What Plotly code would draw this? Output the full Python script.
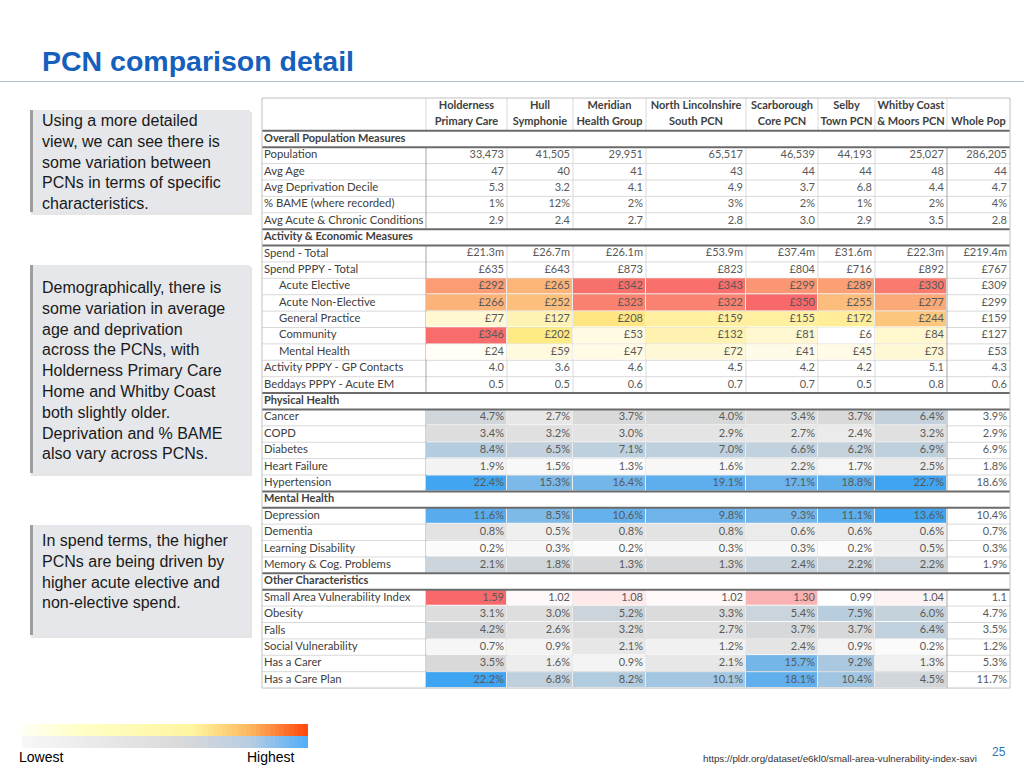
import numpy as np
import plotly.graph_objects as go

# ---------------- DATA ----------------
pcn_line1 = ["Holderness", "Hull", "Meridian", "North Lincolnshire", "Scarborough", "Selby", "Whitby Coast", ""]
pcn_line2 = ["Primary Care", "Symphonie", "Health Group", "South PCN", "Core PCN", "Town PCN", "& Moors PCN", "Whole Pop"]

section_titles = ["Overall Population Measures", "Activity & Economic Measures",
                  "Physical Health", "Mental Health", "Other Characteristics"]

overall_labels = ["Population", "Avg Age", "Avg Deprivation Decile",
                  "% BAME (where recorded)", "Avg Acute & Chronic Conditions"]
overall_values = [
    [33473, 41505, 29951, 65517, 46539, 44193, 25027],
    [47, 40, 41, 43, 44, 44, 48],
    [5.3, 3.2, 4.1, 4.9, 3.7, 6.8, 4.4],
    [1, 12, 2, 3, 2, 1, 2],
    [2.9, 2.4, 2.7, 2.8, 3.0, 2.9, 3.5],
]
overall_whole = [286205, 44, 4.7, 4, 2.8]
overall_formats = ["comma", "int", "dec1", "pct0", "dec1"]

activity_labels = ["Spend - Total", "Spend PPPY - Total", "Acute Elective", "Acute Non-Elective",
                   "General Practice", "Community", "Mental Health",
                   "Activity PPPY - GP Contacts", "Beddays PPPY - Acute EM"]
activity_indent = [False, False, True, True, True, True, True, False, False]
activity_values = [
    [21.3, 26.7, 26.1, 53.9, 37.4, 31.6, 22.3],
    [635, 643, 873, 823, 804, 716, 892],
    [292, 265, 342, 343, 299, 289, 330],
    [266, 252, 323, 322, 350, 255, 277],
    [77, 127, 208, 159, 155, 172, 244],
    [346, 202, 53, 132, 81, 6, 84],
    [24, 59, 47, 72, 41, 45, 73],
    [4.0, 3.6, 4.6, 4.5, 4.2, 4.2, 5.1],
    [0.5, 0.5, 0.6, 0.7, 0.7, 0.5, 0.8],
]
activity_whole = [219.4, 767, 309, 299, 159, 127, 53, 4.3, 0.6]
activity_formats = ["money_m", "money", "money", "money", "money", "money", "money", "dec1", "dec1"]

physical_labels = ["Cancer", "COPD", "Diabetes", "Heart Failure", "Hypertension"]
physical_values = [
    [4.7, 2.7, 3.7, 4.0, 3.4, 3.7, 6.4],
    [3.4, 3.2, 3.0, 2.9, 2.7, 2.4, 3.2],
    [8.4, 6.5, 7.1, 7.0, 6.6, 6.2, 6.9],
    [1.9, 1.5, 1.3, 1.6, 2.2, 1.7, 2.5],
    [22.4, 15.3, 16.4, 19.1, 17.1, 18.8, 22.7],
]
physical_whole = [3.9, 2.9, 6.9, 1.8, 18.6]

mental_labels = ["Depression", "Dementia", "Learning Disability", "Memory & Cog. Problems"]
mental_values = [
    [11.6, 8.5, 10.6, 9.8, 9.3, 11.1, 13.6],
    [0.8, 0.5, 0.8, 0.8, 0.6, 0.6, 0.6],
    [0.2, 0.3, 0.2, 0.3, 0.3, 0.2, 0.5],
    [2.1, 1.8, 1.3, 1.3, 2.4, 2.2, 2.2],
]
mental_whole = [10.4, 0.7, 0.3, 1.9]

other_labels = ["Small Area Vulnerability Index", "Obesity", "Falls",
                "Social Vulnerability", "Has a Carer", "Has a Care Plan"]
other_values = [
    [1.59, 1.02, 1.08, 1.02, 1.30, 0.99, 1.04],
    [3.1, 3.0, 5.2, 3.3, 5.4, 7.5, 6.0],
    [4.2, 2.6, 3.2, 2.7, 3.7, 3.7, 6.4],
    [0.7, 0.9, 2.1, 1.2, 2.4, 0.9, 0.2],
    [3.5, 1.6, 0.9, 2.1, 15.7, 9.2, 1.3],
    [22.2, 6.8, 8.2, 10.1, 18.1, 10.4, 4.5],
]
other_whole = [1.1, 4.7, 3.5, 1.2, 5.3, 11.7]
other_formats = ["dec2", "pct1", "pct1", "pct1", "pct1", "pct1"]
other_whole_formats = ["dec1", "pct1", "pct1", "pct1", "pct1", "pct1"]

box_texts = [
    "Using a more detailed<br>view, we can see there is<br>some variation between<br>PCNs in terms of specific<br>characteristics.",
    "Demographically, there is<br>some variation in average<br>age and deprivation<br>across the PCNs, with<br>Holderness Primary Care<br>Home and Whitby Coast<br>both slightly older.<br>Deprivation and % BAME<br>also vary across PCNs.",
    "In spend terms, the higher<br>PCNs are being driven by<br>higher acute elective and<br>non-elective spend.",
]

# ---------------- LAYOUT CONSTANTS ----------------
W, H = 1024, 768
col_edges = [262, 426, 507, 573, 646, 746, 818, 875, 947, 1010]
table_top = 98
row0_y = 139.0
row_h = 16.39
LABEL_FONT = "Lato, Carlito, Calibri, sans-serif"
ARIAL = "Liberation Sans, Arial, sans-serif"


def fmt(v, kind):
    if kind == "comma":
        return f"{v:,.0f}"
    if kind == "int":
        return f"{v:.0f}"
    if kind == "dec1":
        return f"{v:.1f}"
    if kind == "dec2":
        return f"{v:.2f}"
    if kind == "pct0":
        return f"{v:.0f}%"
    if kind == "pct1":
        return f"{v:.1f}%"
    if kind == "money_m":
        return f"£{v:.1f}m"
    if kind == "money":
        return f"£{v:,.0f}"
    return str(v)


# build table rows
rows = []
def add_section(title, labels, values, whole, fmts, wfmts=None, indents=None):
    rows.append(dict(kind="section", label=title))
    for i, lab in enumerate(labels):
        rows.append(dict(kind="data", label=lab,
                         indent=(indents[i] if indents else False),
                         values=values[i], whole=whole[i], fmt=fmts[i],
                         wfmt=(wfmts[i] if wfmts else fmts[i])))

add_section(section_titles[0], overall_labels, overall_values, overall_whole, overall_formats)
add_section(section_titles[1], activity_labels, activity_values, activity_whole, activity_formats,
            indents=activity_indent)
add_section(section_titles[2], physical_labels, physical_values, physical_whole, ["pct1"] * 5)
add_section(section_titles[3], mental_labels, mental_values, mental_whole, ["pct1"] * 4)
add_section(section_titles[4], other_labels, other_values, other_whole, other_formats, other_whole_formats)

n_rows = len(rows)
def yc(i):
    return row0_y + i * row_h
def ye(i):
    return row0_y - row_h / 2 + i * row_h
table_bottom = ye(n_rows)
header_bottom = ye(0)

fig = go.Figure()

# ---------------- HEATMAP BLOCKS ----------------
WHITE = "#FFFFFF"
YELLOW = "#FFEB84"
RED = "#F8696B"
GRAY = "#D9D9D9"
BLUE = "#3FA4F2"
LOWG = "#FBFBFB"


def row_index(label, section):
    sec_i = [k for k, r in enumerate(rows) if r["kind"] == "section" and r["label"] == section][0]
    for k in range(sec_i + 1, n_rows):
        if rows[k]["label"] == label:
            return k
    raise KeyError(label)


def add_block(first_idx, block_vals, colors):
    arr = np.array(block_vals, dtype=float)
    lo, hi = arr.min(), arr.max()
    if len(colors) == 3:
        med = float(np.median(arr))
        mf = (med - lo) / (hi - lo)
        cs = [[0, colors[0]], [mf, colors[1]], [1, colors[2]]]
    else:
        cs = [[0, colors[0]], [1, colors[1]]]
    nr = arr.shape[0]
    fig.add_trace(go.Heatmap(
        z=arr.tolist(), x=col_edges[1:9],
        y=[ye(first_idx + k) for k in range(nr + 1)],
        colorscale=cs, zmin=lo, zmax=hi, showscale=False,
        xgap=1, ygap=1, hoverinfo="skip"))

add_block(row_index("Acute Elective", section_titles[1]), activity_values[2:7], [WHITE, YELLOW, RED])
add_block(row_index("Cancer", section_titles[2]), physical_values, [LOWG, GRAY, BLUE])
add_block(row_index("Depression", section_titles[3]), mental_values, [LOWG, GRAY, BLUE])
add_block(row_index("Small Area Vulnerability Index", section_titles[4]), other_values[0:1], [WHITE, RED])
add_block(row_index("Obesity", section_titles[4]), other_values[1:], [LOWG, GRAY, BLUE])

# ---------------- TABLE TEXT ----------------
lab_x, lab_y, lab_t = [], [], []
sec_x, sec_y, sec_t = [], [], []
val_x, val_y, val_t = [], [], []
for i, r in enumerate(rows):
    if r["kind"] == "section":
        sec_x.append(col_edges[0] + 2)
        sec_y.append(yc(i))
        sec_t.append("<b>" + r["label"] + "</b>")
        continue
    lab_x.append(col_edges[0] + (17 if r["indent"] else 2))
    lab_y.append(yc(i))
    lab_t.append(r["label"])
    for c, v in enumerate(r["values"]):
        val_x.append(col_edges[c + 2] - 3)
        val_y.append(yc(i))
        val_t.append(fmt(v, r["fmt"]))
    val_x.append(col_edges[9] - 3)
    val_y.append(yc(i))
    val_t.append(fmt(r["whole"], r["wfmt"]))

fig.add_trace(go.Scatter(x=lab_x, y=lab_y, text=lab_t, mode="text", textposition="middle right",
                         textfont=dict(family=LABEL_FONT, size=11.3, color="#404040"), hoverinfo="skip"))
fig.add_trace(go.Scatter(x=sec_x, y=sec_y, text=sec_t, mode="text", textposition="middle right",
                         textfont=dict(family=LABEL_FONT, size=11, color="#404040"), hoverinfo="skip"))
fig.add_trace(go.Scatter(x=val_x, y=val_y, text=val_t, mode="text", textposition="middle left",
                         textfont=dict(family=LABEL_FONT, size=11, color="#595959"), hoverinfo="skip"))

hx = [(col_edges[c + 1] + col_edges[c + 2]) / 2 for c in range(8)]
fig.add_trace(go.Scatter(x=hx, y=[106] * 8, text=["<b>" + t + "</b>" for t in pcn_line1],
                         mode="text", textposition="middle center",
                         textfont=dict(family=LABEL_FONT, size=11, color="#404040"), hoverinfo="skip"))
fig.add_trace(go.Scatter(x=hx, y=[122] * 8, text=["<b>" + t + "</b>" for t in pcn_line2],
                         mode="text", textposition="middle center",
                         textfont=dict(family=LABEL_FONT, size=11, color="#404040"), hoverinfo="skip"))

# ---------------- TABLE LINES ----------------
shapes = []
def line(x0, y0, x1, y1, color, width, layer="below"):
    shapes.append(dict(type="line", x0=x0, y0=y0, x1=x1, y1=y1, xref="x", yref="y",
                       line=dict(color=color, width=width), layer=layer))

blocks = []
start = None
for i, r in enumerate(rows):
    if r["kind"] == "data" and start is None:
        start = i
    if r["kind"] == "section" and start is not None:
        blocks.append((start, i - 1)); start = None
if start is not None:
    blocks.append((start, n_rows - 1))

for (a, b) in blocks:
    for i in range(a + 1, b + 1):
        line(col_edges[0], ye(i), col_edges[-1], ye(i), "#D9D9D9", 1)
    for k, x in enumerate(col_edges[1:-1]):
        colr = "#A6A6A6" if k in (0, 7) else "#D9D9D9"
        line(x, ye(a), x, ye(b + 1), colr, 1)
for k, x in enumerate(col_edges[1:-1]):
    line(x, table_top, x, header_bottom, "#D9D9D9", 1)
for i, r in enumerate(rows):
    if r["kind"] == "section":
        line(col_edges[0], ye(i), col_edges[-1], ye(i), "#6B6B6B", 2, "above")
        line(col_edges[0], ye(i + 1), col_edges[-1], ye(i + 1), "#6B6B6B", 2, "above")
shapes.append(dict(type="rect", x0=col_edges[0], y0=table_top, x1=col_edges[-1], y1=table_bottom,
                   xref="x", yref="y", line=dict(color="#BFBFBF", width=1), layer="above"))

# ---------------- SLIDE DECORATION ----------------
shapes.append(dict(type="line", x0=0, y0=81.5, x1=W, y1=81.5, xref="x", yref="y",
                   line=dict(color="#A9C0D3", width=1), layer="below"))
boxes = [(30, 110, 250, 212), (30, 265, 250, 473), (30, 525, 250, 635)]
box_text_mid = [162, 370.5, 571]
annotations = []
for (bx0, by0, bx1, by1), txt, ty in zip(boxes, box_texts, box_text_mid):
    shapes.append(dict(type="rect", x0=bx0 + 1, y0=by0 + 2, x1=bx1 + 2, y1=by1 + 3, xref="x", yref="y",
                       fillcolor="rgba(0,0,0,0.10)", line=dict(width=0), layer="below"))
    shapes.append(dict(type="rect", x0=bx0, y0=by0, x1=bx1, y1=by1, xref="x", yref="y",
                       fillcolor="#E5E7EA", line=dict(width=0), layer="below"))
    shapes.append(dict(type="rect", x0=bx0, y0=by0, x1=bx0 + 3, y1=by1, xref="x", yref="y",
                       fillcolor="#9E9E9E", line=dict(width=0), layer="below"))
    annotations.append(dict(x=bx0 + 10, y=ty, xref="x", yref="y", text=txt, showarrow=False,
                            xanchor="left", yanchor="middle", align="left",
                            font=dict(family=ARIAL, size=16, color="#1A1A1A")))

annotations.append(dict(x=40, y=61, xref="x", yref="y", text="<b>PCN comparison detail</b>",
                        showarrow=False, xanchor="left", yanchor="middle",
                        font=dict(family=ARIAL, size=28.5, color="#1560BD")))
annotations.append(dict(x=17, y=757, xref="x", yref="y", text="Lowest", showarrow=False,
                        xanchor="left", yanchor="middle", font=dict(family=ARIAL, size=14, color="#000000")))
annotations.append(dict(x=245, y=757, xref="x", yref="y", text="Highest", showarrow=False,
                        xanchor="left", yanchor="middle", font=dict(family=ARIAL, size=14, color="#000000")))
annotations.append(dict(x=979, y=758, xref="x", yref="y",
                        text="https://pldr.org/dataset/e6kl0/small-area-vulnerability-index-savi",
                        showarrow=False, xanchor="right", yanchor="middle",
                        font=dict(family="Liberation Sans Narrow, Arial Narrow, " + ARIAL, size=9.8, color="#333333")))
annotations.append(dict(x=999, y=752, xref="x", yref="y", text="25", showarrow=False,
                        xanchor="center", yanchor="middle", font=dict(family=ARIAL, size=12, color="#2E75B6")))

# legend gradient bars
n_grad = 60
grad_x = np.linspace(22, 308, n_grad + 1).tolist()
fig.add_trace(go.Heatmap(z=[list(range(n_grad))], x=grad_x, y=[724, 736], showscale=False, hoverinfo="skip",
                         colorscale=[[0, "#FFFFF2"], [0.2, "#FFFFC6"], [0.6, "#FFF5A0"], [0.8, "#FDB860"],
                                     [1, "#FF4A10"]]))
fig.add_trace(go.Heatmap(z=[list(range(n_grad))], x=grad_x, y=[736, 748], showscale=False, hoverinfo="skip",
                         colorscale=[[0, "#F7F7F7"], [0.55, "#DADADA"], [0.8, "#B8CDE2"], [1, "#55AEF8"]]))

fig.update_layout(
    width=W, height=H, margin=dict(l=0, r=0, t=0, b=0),
    paper_bgcolor="white", plot_bgcolor="white", showlegend=False,
    xaxis=dict(range=[0, W], visible=False, fixedrange=True),
    yaxis=dict(range=[H, 0], visible=False, fixedrange=True),
    shapes=shapes, annotations=annotations,
)

fig.write_html("out.html", config={"displayModeBar": False},
               post_script="document.body.style.margin='0';document.body.style.overflow='hidden';")
